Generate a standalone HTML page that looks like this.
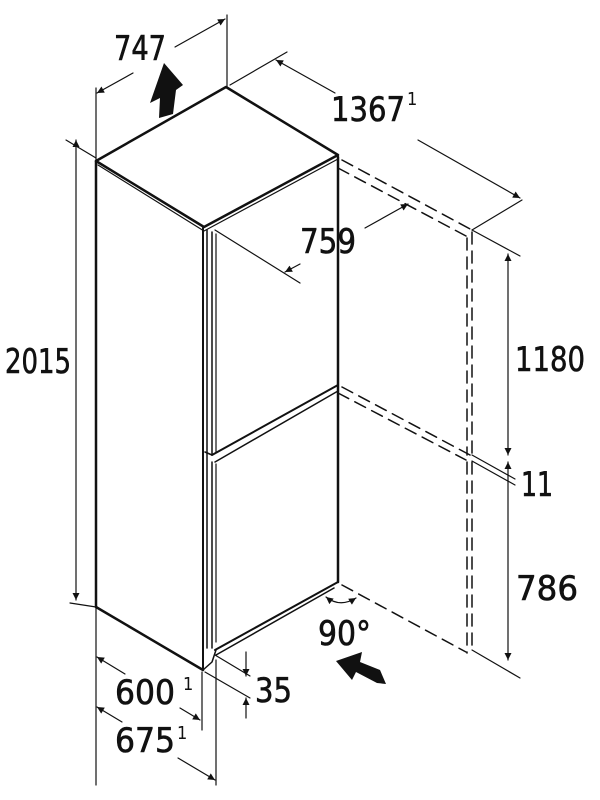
<!DOCTYPE html>
<html><head><style>
html,body{margin:0;padding:0;background:#fff;}
svg{display:block}
text{font-family:"DejaVu Sans Condensed","Liberation Sans",sans-serif;fill:#111;}
</style></head><body>
<svg width="600" height="800" viewBox="0 0 600 800" xmlns="http://www.w3.org/2000/svg">
<defs>
<marker id="a" viewBox="0 0 10 10" refX="10" refY="5" markerWidth="9" markerHeight="7" orient="auto-start-reverse" markerUnits="userSpaceOnUse">
<path d="M0,0 L10,5 L0,10 z" fill="#111"/></marker>
</defs>
<g stroke="#111" fill="none" stroke-linecap="round" stroke-linejoin="round">
<path d="M96,161 L226,87 L338,155 L204,227 Z" stroke-width="2.5"/>
<path d="M98,165 L204,231 L338,159" stroke-width="1.2"/>
<line x1="96" y1="161" x2="96" y2="607" stroke-width="2.5"/>
<line x1="96" y1="607" x2="203" y2="670" stroke-width="2.5"/>
<line x1="338" y1="157" x2="338" y2="582" stroke-width="2.5"/>
<line x1="203" y1="228" x2="203" y2="670" stroke-width="2"/>
<line x1="207" y1="230" x2="207" y2="648" stroke-width="1.5"/>
<line x1="212" y1="232" x2="212" y2="455" stroke-width="1.5"/>
<line x1="212" y1="462" x2="212" y2="648" stroke-width="1.5"/>
<line x1="216" y1="234" x2="216" y2="452" stroke-width="1.2"/>
<line x1="216" y1="464" x2="216" y2="642" stroke-width="1.2"/>
<line x1="338" y1="385" x2="212" y2="455" stroke-width="2"/>
<line x1="338" y1="391" x2="215" y2="462" stroke-width="1.5"/>
<line x1="205" y1="452" x2="212" y2="455" stroke-width="1.5"/>
<line x1="338" y1="582" x2="215" y2="650" stroke-width="2"/>
<line x1="334" y1="588" x2="216" y2="655" stroke-width="1.5"/>
<path d="M203,670 L212,662 L216,650" stroke-width="1.5"/>
<g stroke-dasharray="12,7" stroke-width="1.5">
<line x1="342" y1="160" x2="472" y2="230"/>
<line x1="338" y1="168" x2="466" y2="236"/>
<line x1="342" y1="387" x2="470" y2="455"/>
<line x1="338" y1="393" x2="466" y2="460"/>
<line x1="342" y1="585" x2="466" y2="652"/>
<line x1="472" y1="232" x2="472" y2="455"/>
<line x1="467" y1="238" x2="467" y2="455"/>
<line x1="472" y1="462" x2="472" y2="650"/>
<line x1="467" y1="462" x2="467" y2="653"/>
</g>
<g stroke-width="1.2">
<line x1="227" y1="15" x2="227" y2="87"/>
<line x1="96" y1="88" x2="96" y2="160"/>
<line x1="175" y1="47" x2="225" y2="19" marker-end="url(#a)"/>
<line x1="133" y1="73" x2="97" y2="93" marker-end="url(#a)"/>
<line x1="230" y1="85" x2="287" y2="52"/>
<line x1="276" y1="60" x2="335" y2="93" marker-start="url(#a)"/>
<line x1="418" y1="140" x2="520" y2="198" marker-end="url(#a)"/>
<line x1="472" y1="230" x2="522" y2="200"/>
<line x1="215" y1="230" x2="300" y2="283"/>
<line x1="285" y1="272" x2="300" y2="264" marker-start="url(#a)"/>
<line x1="365" y1="228" x2="408" y2="204" marker-end="url(#a)"/>
<line x1="76" y1="140" x2="76" y2="600" marker-start="url(#a)" marker-end="url(#a)"/>
<line x1="66" y1="140" x2="96" y2="158"/>
<line x1="70" y1="603" x2="96" y2="607"/>
<line x1="472" y1="230" x2="520" y2="256"/>
<line x1="508" y1="254" x2="508" y2="455" marker-start="url(#a)" marker-end="url(#a)"/>
<line x1="472" y1="455" x2="515" y2="479"/>
<line x1="472" y1="461" x2="515" y2="485"/>
<line x1="508" y1="462" x2="508" y2="660" marker-start="url(#a)" marker-end="url(#a)"/>
<line x1="472" y1="650" x2="520" y2="678"/>
<line x1="96" y1="608" x2="96" y2="785"/>
<line x1="202" y1="672" x2="202" y2="730"/>
<line x1="216" y1="660" x2="216" y2="785"/>
<line x1="97" y1="657" x2="125" y2="674" marker-start="url(#a)"/>
<line x1="180" y1="708" x2="200" y2="720" marker-end="url(#a)"/>
<line x1="97" y1="707" x2="122" y2="722" marker-start="url(#a)"/>
<line x1="178" y1="758" x2="215" y2="780" marker-end="url(#a)"/>
<line x1="215" y1="655" x2="250" y2="676"/>
<line x1="205" y1="672" x2="250" y2="698"/>
<line x1="246" y1="652" x2="246" y2="676" marker-end="url(#a)"/>
<line x1="246" y1="718" x2="246" y2="698" marker-end="url(#a)"/>
<path d="M326,597 Q340,608 356,598" marker-start="url(#a)" marker-end="url(#a)"/>
</g>
</g>
<path d="M159,118 L173,114 L176,90 L183,85 L164,63 L150,103 L160,98 Z" fill="#111"/>
<path d="M386,684 L380,670 L360,662 L362,652 L336,661 L352,680 L356,672 L377,683 Z" fill="#111"/>
<g font-size="34" stroke="#111" stroke-width="0.6">
<text x="114" y="60" textLength="52" lengthAdjust="spacingAndGlyphs">747</text>
<text x="331" y="121" textLength="74" lengthAdjust="spacingAndGlyphs">1367</text>
<text x="300" y="253" textLength="56" lengthAdjust="spacingAndGlyphs">759</text>
<text x="5" y="373" textLength="66" lengthAdjust="spacingAndGlyphs">2015</text>
<text x="515" y="371" textLength="70" lengthAdjust="spacingAndGlyphs">1180</text>
<text x="521" y="496" textLength="32" lengthAdjust="spacingAndGlyphs">11</text>
<text x="516" y="600" textLength="62" lengthAdjust="spacingAndGlyphs">786</text>
<text x="318" y="645" textLength="53" lengthAdjust="spacingAndGlyphs">90°</text>
<text x="115" y="704" textLength="60" lengthAdjust="spacingAndGlyphs">600</text>
<text x="115" y="752" textLength="60" lengthAdjust="spacingAndGlyphs">675</text>
<text x="255" y="702" textLength="37" lengthAdjust="spacingAndGlyphs">35</text>
</g>
<g font-size="18">
<text x="407" y="105">1</text>
<text x="183" y="690">1</text>
<text x="177" y="739">1</text>
</g>
</svg>
</body></html>
